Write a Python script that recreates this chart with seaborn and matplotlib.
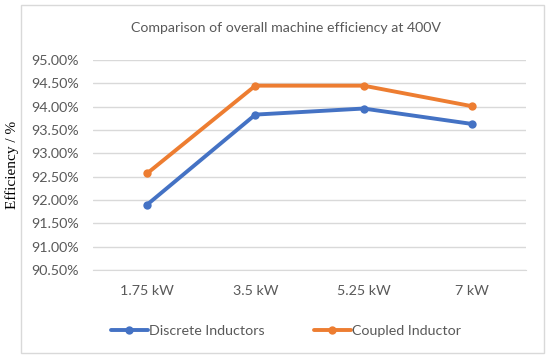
import pandas as pd
import seaborn as sns
import matplotlib.pyplot as plt
from matplotlib.patches import Rectangle

# chart data
powers = ['1.75 kW', '3.5 kW', '5.25 kW', '7 kW']
discrete = [91.90, 93.83, 93.96, 93.63]
coupled = [92.57, 94.45, 94.45, 94.01]
series_names = ['Discrete Inductors', 'Coupled Inductor']
y_ticks = [90.5, 91.0, 91.5, 92.0, 92.5, 93.0, 93.5, 94.0, 94.5, 95.0]

df = pd.DataFrame({
    'power': powers * 2,
    'eff': discrete + coupled,
    'series': [series_names[0]] * 4 + [series_names[1]] * 4,
})

sns.set_style('white')
plt.rcParams['font.family'] = ['Lato', 'DejaVu Sans']

fig = plt.figure(figsize=(5.5, 3.57), dpi=100)
ax = fig.add_axes([93 / 550, 1 - 270 / 357, (526 - 93) / 550, (270 - 60) / 357])

# light grey frame around the whole chart
fig.patches.append(Rectangle((20.5 / 550, 1 - 353 / 357), (544 - 20.5) / 550, (353 - 4.5) / 357,
                             transform=fig.transFigure, fill=False, edgecolor='#D9D9D9', linewidth=1))

sns.lineplot(data=df, x='power', y='eff', hue='series', palette=['#4472C4', '#ED7D31'],
             marker='o', markersize=6, markeredgewidth=0, linewidth=2.8, sort=False, ax=ax, legend=False)

ax.set_xlim(-0.5, 3.5)
ax.set_ylim(90.5, 95.0)
ax.set_yticks(y_ticks)
ax.set_yticklabels(['{:.2f}%'.format(v) for v in y_ticks])
ax.yaxis.grid(True, color='#D9D9D9', linewidth=1)
ax.set_axisbelow(True)
for side in ['left', 'right', 'top']:
    ax.spines[side].set_visible(False)
ax.spines['bottom'].set_color('#D9D9D9')
ax.tick_params(axis='both', length=0, labelsize=10.3, labelcolor='#595959')
ax.tick_params(axis='y', pad=10)
ax.tick_params(axis='x', pad=10.5)
ax.set_xlabel('')
ax.set_ylabel('')

fig.text(12 / 550, 1 - 165 / 357, 'Efficiency / %', rotation=90, ha='center', va='center',
         family='Liberation Serif', fontsize=11, color='black')
fig.text(286 / 550, 1 - 28 / 357, 'Comparison of overall machine efficiency at 400V',
         ha='center', va='center', fontsize=10.2, color='#595959')

handles = [plt.Line2D([], [], color=c, linewidth=2.8, marker='o', markersize=6, markeredgewidth=0)
           for c in ['#4472C4', '#ED7D31']]
leg = fig.legend(handles, series_names, loc='center', bbox_to_anchor=(286 / 550, 1 - 331 / 357),
                 ncol=2, frameon=False, fontsize=10.3, handlelength=2.6, handletextpad=0.1,
                 columnspacing=3.4)
for t in leg.get_texts():
    t.set_color('#595959')

fig.savefig('out.png', dpi=100)
